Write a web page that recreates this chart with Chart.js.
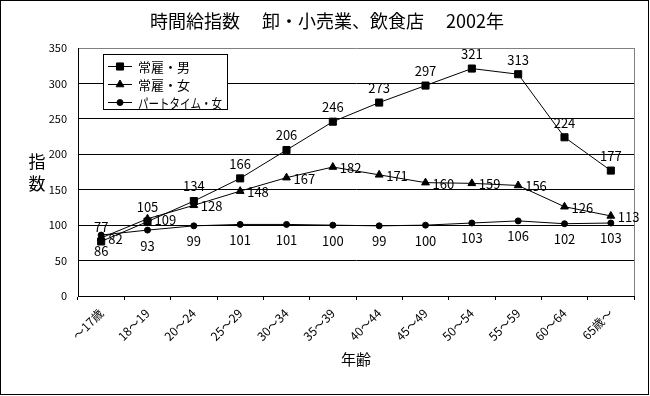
<!DOCTYPE html>
<html lang="ja">
<head>
  <meta charset="UTF-8" />
  <title>時間給指数 卸・小売業、飲食店 2002年</title>
  <script src="https://cdn.jsdelivr.net/npm/chart.js"></script>
  <style>
    body {
      margin: 0;
      background: #fff;
    }
    canvas {
      display: block;
    }
  </style>
</head>
<body>
  <canvas id="wageChart" width="650" height="396"></canvas>

  <script>
    const ageGroups = ['～17歳', '18～19', '20～24', '25～29', '30～34', '35～39',
                       '40～44', '45～49', '50～54', '55～59', '60～64', '65歳～'];
    const maleRegular   = [77, 105, 134, 166, 206, 246, 273, 297, 321, 313, 224, 177];
    const femaleRegular = [82, 109, 128, 148, 167, 182, 171, 160, 159, 156, 126, 113];
    const femalePart    = [86, 93, 99, 101, 101, 100, 99, 100, 103, 106, 102, 103];
    const seriesNames = ['常雇・男', '常雇・女', 'パートタイム・女'];
    const yTicks = [0, 50, 100, 150, 200, 250, 300, 350];

    const FONT = '"Noto Sans CJK JP", "DejaVu Sans", sans-serif';

    // value labels next to each point
    const pointLabels = {
      id: 'pointLabels',
      afterDatasetsDraw(chart) {
        const ctx = chart.ctx;
        ctx.save();
        ctx.font = '13px ' + FONT;
        ctx.fillStyle = '#000';
        chart.data.datasets.forEach((ds, i) => {
          const meta = chart.getDatasetMeta(i);
          meta.data.forEach((pt, j) => {
            const txt = String(ds.data[j]);
            if (ds.labelPos === 'top') {
              ctx.textAlign = 'center';
              ctx.textBaseline = 'bottom';
              ctx.fillText(txt, pt.x, pt.y - 8);
            } else if (ds.labelPos === 'right') {
              ctx.textAlign = 'left';
              ctx.textBaseline = 'middle';
              ctx.fillText(txt, pt.x + 7, pt.y + 1);
            } else {
              ctx.textAlign = 'center';
              ctx.textBaseline = 'top';
              ctx.fillText(txt, pt.x, pt.y + 9);
            }
          });
        });
        ctx.restore();
      }
    };

    // title, y title, plot frame, legend box, outer border
    const decorations = {
      id: 'decorations',
      beforeDatasetsDraw(chart) {
        const {ctx, chartArea} = chart;
        ctx.save();
        ctx.strokeStyle = '#808080';
        ctx.lineWidth = 1;
        ctx.beginPath();
        ctx.moveTo(chartArea.right + 0.5, chartArea.top);
        ctx.lineTo(chartArea.right + 0.5, chartArea.bottom);
        ctx.stroke();
        ctx.restore();
      },
      afterDraw(chart) {
        const {ctx, chartArea} = chart;
        ctx.save();
        ctx.fillStyle = '#000';

        ctx.font = '18px ' + FONT;
        ctx.textAlign = 'center';
        ctx.textBaseline = 'middle';
        ctx.fillText('時間給指数　 卸・小売業、飲食店　 2002年', 327, 21, 392);

        ctx.font = '17px ' + FONT;
        ctx.fillText('指', 37, 162);
        ctx.fillText('数', 37, 184);

        // legend
        const lx = chartArea.left + 25, ly = chartArea.top + 6;
        ctx.fillStyle = '#fff';
        ctx.fillRect(lx, ly, 124, 55);
        ctx.strokeStyle = '#000';
        ctx.lineWidth = 1;
        ctx.strokeRect(lx + 0.5, ly + 0.5, 124, 55);
        ctx.font = '13px ' + FONT;
        ctx.textAlign = 'left';
        chart.data.datasets.forEach((ds, i) => {
          const y = ly + 12 + i * 18;
          ctx.strokeStyle = '#000';
          ctx.fillStyle = '#000';
          ctx.beginPath();
          ctx.moveTo(lx + 5, y + 0.5);
          ctx.lineTo(lx + 29, y + 0.5);
          ctx.stroke();
          Chart.helpers.drawPoint(ctx, {
            pointStyle: ds.pointStyle, radius: ds.pointRadius, rotation: 0, borderWidth: 1
          }, lx + 17, y + 0.5);
          ctx.fillText(ds.label, lx + 35, y + 1, 84);
        });

        ctx.strokeStyle = '#000';
        ctx.strokeRect(0.5, 0.5, 648, 394);
        ctx.restore();
      }
    };

    function makeSeries(label, data, style, radius, labelPos) {
      return {
        label: label,
        data: data,
        borderColor: '#000',
        backgroundColor: '#000',
        borderWidth: 1,
        pointStyle: style,
        pointRadius: radius,
        pointHoverRadius: radius,
        pointBorderWidth: 1,
        tension: 0,
        fill: false,
        labelPos: labelPos
      };
    }

    new Chart(document.getElementById('wageChart'), {
      type: 'line',
      data: {
        labels: ageGroups,
        datasets: [
          makeSeries(seriesNames[0], maleRegular, 'rect', 5, 'top'),
          makeSeries(seriesNames[1], femaleRegular, 'triangle', 4.5, 'right'),
          makeSeries(seriesNames[2], femalePart, 'circle', 3, 'bottom')
        ]
      },
      options: {
        responsive: false,
        animation: false,
        layout: { padding: { top: 48, right: 16, left: 0, bottom: 0 } },
        plugins: {
          legend: { display: false },
          title: { display: false },
          tooltip: { enabled: false }
        },
        scales: {
          x: {
            offset: true,
            grid: {
              offset: true,
              drawOnChartArea: false,
              drawTicks: true,
              tickLength: 4,
              color: '#000'
            },
            border: { color: '#000' },
            ticks: {
              color: '#000',
              font: { family: FONT, size: 12 },
              minRotation: 45,
              maxRotation: 45,
              autoSkip: false,
              padding: 6
            },
            title: {
              display: true,
              text: '年齢',
              color: '#000',
              font: { family: FONT, size: 15 },
              padding: { top: 0, bottom: 28 }
            },
            afterFit(scale) { scale.height = 100; }
          },
          y: {
            min: 0,
            max: 350,
            afterBuildTicks(scale) { scale.ticks = yTicks.map(v => ({ value: v })); },
            grid: {
              drawTicks: false,
              color: ctx => ctx.tick && ctx.tick.value === 350 ? '#808080' : '#000'
            },
            border: { color: '#000' },
            ticks: {
              color: '#000',
              font: { family: FONT, size: 11 },
              padding: 11
            },
            afterFit(scale) { scale.width = 78; }
          }
        }
      },
      plugins: [decorations, pointLabels]
    });
  </script>
</body>
</html>
